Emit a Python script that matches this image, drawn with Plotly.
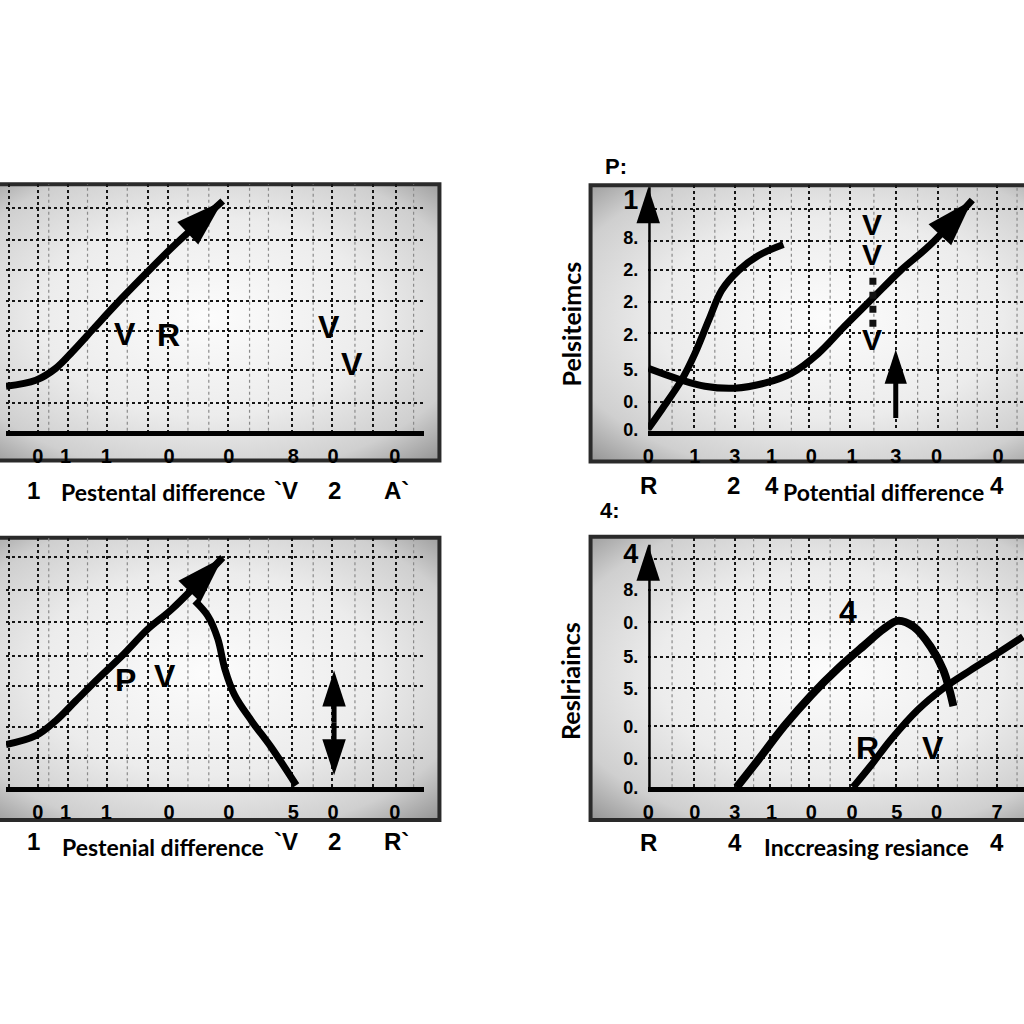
import base64
import plotly.graph_objects as go

W = H = 1024

# ---------------- data ----------------
# Panel A (top-left)
a_curve_x = [0, 3.0, 5.0, 6.7, 8.8, 11.0, 14.0, 16.7, 21.8]
a_curve_y = [4.5, 5.1, 6.3, 8.0, 10.3, 12.7, 15.8, 18.5, 23.2]
a_xtick_pos = [3.2, 6.0, 10.1, 16.4, 22.4, 28.9, 32.9, 39.1]
a_xtick_text = ["0", "1", "1", "0", "0", "8", "0", "0"]
a_labels = ["V", "R", "V", "V"]
a_label_x = [12.0, 16.3, 32.5, 34.8]
a_label_y = [9.8, 9.7, 10.5, 6.7]
a_below_text = ["1", "Pestental difference", "`V", "2", "A`"]
a_below_x = [2.8, 15.8, 28.2, 33.0, 39.3]
a_hgrid = [22.5, 19.3, 16.2, 13.1, 10.1, 6.1, 2.8]

# Panel B (top-right)
b_curve1_x = [0, 1.4, 3.4, 4.7, 6.1, 7.4, 9.1, 11.1, 13.6]
b_curve1_y = [0.2, 2.2, 5.2, 7.8, 11.2, 14.2, 16.2, 17.7, 18.8]
b_curve2_x = [0, 3.1, 5.7, 8.7, 11.7, 14.4, 17.1, 19.7, 22.4, 25.4, 28.4, 32.6]
b_curve2_y = [6.3, 5.2, 4.5, 4.3, 4.8, 5.8, 7.8, 10.5, 13.2, 16.2, 18.8, 23.3]
b_marker_x = [22.6, 22.6]
b_marker_y = [10.5, 15.8]
b_uparrow_x = [24.9, 24.9]
b_uparrow_y = [1.3, 8.2]
b_xtick_pos = [0, 4.7, 8.7, 12.4, 16.4, 20.5, 24.9, 29.0, 35.2]
b_xtick_text = ["0", "1", "3", "1", "0", "1", "3", "0", "0"]
b_ytick_pos = [23.0, 19.5, 16.3, 13.0, 9.7, 6.2, 2.9, 0.1]
b_ytick_text = ["<span style='font-size:27px'>1</span>", "8.", "2.", "2.", "2.", "5.", "0.", "0."]
b_labels = ["V", "V", "V"]
b_label_x = [22.5, 22.5, 22.5]
b_label_y = [20.8, 17.8, 9.2]
b_below_text = ["R", "2", "4", "Potential difference", "4"]
b_below_x = [0, 8.6, 12.5, 23.7, 35.1]
b_hgrid = [22.4, 19.2, 16.2, 13.0, 9.9, 6.1, 2.9]
b_title = "P:"
b_ytitle = "Pelsiteimcs"

# Panel C (bottom-left)
c_curve1_x = [0, 3.0, 5.0, 7.0, 9.3, 11.7, 14.3, 16.7, 21.8]
c_curve1_y = [4.3, 5.2, 6.7, 8.7, 11.0, 13.3, 16.0, 18.0, 23.2]
c_curve2_x = [19.0, 20.3, 21.3, 22.0, 23.0, 24.7, 26.7, 29.2]
c_curve2_y = [18.8, 17.3, 15.0, 12.0, 9.3, 6.7, 4.0, 0.2]
c_darrow_x = [33.0, 33.0, 33.0]
c_darrow_y = [6.5, 11.8, 1.2]
c_xtick_pos = [3.2, 6.0, 10.1, 16.4, 22.4, 28.9, 32.9, 39.1]
c_xtick_text = ["0", "1", "1", "0", "0", "5", "0", "0"]
c_labels = ["P", "V"]
c_label_x = [12.0, 16.0]
c_label_y = [10.8, 11.2]
c_below_text = ["1", "Pestenial difference", "`V", "2", "R`"]
c_below_x = [2.8, 15.8, 28.2, 33.0, 39.3]
c_hgrid = [23.2, 19.9, 16.7, 13.3, 10.2, 6.1, 3.0]

# Panel D (bottom-right)
d_curve1_x = [8.9, 11.1, 13.7, 16.4, 19.1, 21.7, 23.7, 25.1, 26.7, 28.4, 29.7, 30.7]
d_curve1_y = [0.0, 2.8, 6.2, 9.3, 12.0, 14.3, 16.0, 16.8, 16.2, 14.2, 11.8, 8.2]
d_curve2_x = [20.6, 22.4, 24.4, 27.1, 29.7, 32.4, 35.1, 37.7]
d_curve2_y = [0.0, 2.2, 4.8, 7.8, 10.0, 11.8, 13.5, 15.2]
d_xtick_pos = [0, 4.7, 8.7, 12.4, 16.4, 20.5, 25.0, 29.0, 35.1]
d_xtick_text = ["0", "0", "3", "1", "0", "0", "5", "0", "7"]
d_ytick_pos = [23.3, 19.9, 16.6, 13.2, 10.0, 6.1, 2.9, 0.0]
d_ytick_text = ["<span style='font-size:27px'>4</span>", "8.", "0.", "5.", "5.", "0.", "0.", "0."]
d_labels = ["4", "R", "V"]
d_label_x = [20.1, 22.1, 28.6]
d_label_y = [17.7, 4.0, 4.0]
d_below_text = ["R", "4", "Inccreasing resiance", "4"]
d_below_x = [0, 8.7, 22.0, 35.1]
d_hgrid = [23.0, 19.9, 16.7, 13.2, 10.0, 6.2, 3.0]
d_title = "4:"
d_ytitle = "Reslriaincs"

# grid positions
left_dark_grid = [0.3, 3.2, 6.2, 10.2, 14.3, 16.3, 22.3, 28.8, 32.8, 36.9, 39.2]
left_light_grid = [4.3, 8.2, 12.2, 18.3, 20.4, 24.5, 26.4, 30.9, 35.1, 41.0]
right_dark_grid = [4.6, 8.7, 12.3, 16.2, 20.3, 24.9, 29.1, 35.1]
right_light_grid = [2.4, 6.7, 10.6, 14.4, 18.3, 22.7, 27.1, 31.1, 33.1, 37.1]

# ---------------- styling / layout helpers ----------------
BOLD = "Liberation Sans, Arial, sans-serif"
HUMAN = "Lato, Open Sans, sans-serif"
tick_font = dict(family=BOLD, size=20, color="black", weight="bold")

svg = ('<svg xmlns="http://www.w3.org/2000/svg" width="400" height="300" viewBox="0 0 400 300" '
       'preserveAspectRatio="none"><defs><radialGradient id="g" cx="50%" cy="48%" r="72%">'
       '<stop offset="0%" stop-color="#fcfcfc"/><stop offset="50%" stop-color="#ececec"/>'
       '<stop offset="80%" stop-color="#cfcfcf"/><stop offset="100%" stop-color="#949494"/>'
       '</radialGradient></defs><rect width="400" height="300" fill="url(#g)"/></svg>')
bg_src = "data:image/svg+xml;base64," + base64.b64encode(svg.encode()).decode()


def px(x):
    return x / W


def py(y):
    return 1 - y / H


# panels: key -> (axis suffix, x domain px, y domain px(bottom, top), xrange, yrange, frame px)
panels = {
    "a": ("", (0, 420), (435, 186), [0, 42.0], [0, 24.9], (-30, 186, 436, 465)),
    "b": ("2", (646, 1024), (435, 187), [0, 37.8], [0, 24.8], (588, 187, 1070, 466)),
    "c": ("3", (0, 420), (795, 543), [0, 42.0], [0, 25.2], (-30, 543, 436, 828)),
    "d": ("4", (646, 1024), (795, 543), [0, 37.8], [0, 25.2], (588, 542, 1070, 828)),
}

fig = go.Figure()
layout = dict(width=W, height=H, margin=dict(l=0, r=0, t=0, b=0), paper_bgcolor="white",
              plot_bgcolor="rgba(0,0,0,0)", showlegend=False)
images, shapes, annotations = [], [], []

xticks = {"a": (a_xtick_pos, a_xtick_text), "b": (b_xtick_pos, b_xtick_text),
          "c": (c_xtick_pos, c_xtick_text), "d": (d_xtick_pos, d_xtick_text)}
yticks = {"b": (b_ytick_pos, b_ytick_text), "d": (d_ytick_pos, d_ytick_text)}
hgrids = {"a": a_hgrid, "b": b_hgrid, "c": c_hgrid, "d": d_hgrid}

for key, (sfx, xd, yd, xr, yr, frame) in panels.items():
    left = key in ("a", "c")
    dark = left_dark_grid if left else right_dark_grid
    light = left_light_grid if left else right_light_grid
    layout["xaxis" + sfx] = dict(
        domain=[px(xd[0]), px(xd[1])], range=xr, anchor="y" + sfx,
        showline=True, linewidth=5, linecolor="black",
        tickmode="array", tickvals=xticks[key][0], ticktext=xticks[key][1],
        ticks="", ticklabelstandoff=3, tickfont=tick_font, showgrid=False, zeroline=False,
        minor=dict(tickmode="array", tickvals=dark, showgrid=True, gridcolor="#151515",
                   gridwidth=2, griddash="dot", ticks=""),
        fixedrange=True)
    ycfg = dict(domain=[py(yd[0]), py(yd[1])], range=yr, anchor="x" + sfx,
                showline=False, showgrid=False, zeroline=False, ticks="",
                minor=dict(tickmode="array", tickvals=hgrids[key], showgrid=True,
                           gridcolor="#151515", gridwidth=2, griddash="dot", ticks=""),
                fixedrange=True)
    if left:
        ycfg["showticklabels"] = False
    else:
        ycfg.update(tickmode="array", tickvals=yticks[key][0], ticktext=yticks[key][1],
                    tickfont=dict(tick_font, size=18), ticklabelstandoff=9)
    layout["yaxis" + sfx] = ycfg

    fx0, fy0, fx1, fy1 = frame
    images.append(dict(source=bg_src, xref="paper", yref="paper", x=px(fx0), y=py(fy0),
                       sizex=px(fx1 - fx0), sizey=(fy1 - fy0) / H, sizing="stretch",
                       xanchor="left", yanchor="top", layer="below"))
    shapes.append(dict(type="rect", xref="paper", yref="paper", x0=px(fx0), x1=px(fx1),
                       y0=py(fy1), y1=py(fy0), line=dict(color="#2a2a2a", width=4),
                       fillcolor="rgba(0,0,0,0)", layer="below"))
    for lx in light:
        shapes.append(dict(type="line", xref="x" + sfx, yref="y" + sfx + " domain",
                           x0=lx, x1=lx, y0=0, y1=1,
                           line=dict(color="#8a8a8a", width=1.2, dash="dot"), layer="below"))


def curve(xs, ys, sfx, head=None, width=7, spline=True):
    sizes = [0] * (len(xs) - 1) + [head if head else 0]
    fig.add_trace(go.Scatter(
        x=xs, y=ys, xaxis="x" + sfx, yaxis="y" + sfx, mode="lines+markers" if head else "lines",
        line=dict(color="black", width=width, shape="spline" if spline else "linear", smoothing=1.0),
        marker=dict(symbol="arrow", size=sizes, color="black", opacity=1, angleref="previous",
                    line=dict(width=0, color="black")),
        opacity=1, cliponaxis=False, hoverinfo="skip"))


def label(txt, x, y, sfx, size=32):
    annotations.append(dict(text=txt, x=x, y=y, xref="x" + sfx, yref="y" + sfx, showarrow=False,
                            xanchor="center", yanchor="middle",
                            font=dict(family=BOLD, size=size, color="black", weight="bold")))


def below(texts, xs, sfx, ypix_num, ypix_title):
    for t, x in zip(texts, xs):
        is_title = len(t) > 3
        font = (dict(family=HUMAN, size=23, color="black", weight="bold") if is_title
                else dict(family=BOLD, size=24, color="black", weight="bold"))
        annotations.append(dict(
            text=t, x=x, y=py(ypix_title if is_title else ypix_num), xref="x" + sfx, yref="paper",
            showarrow=False, xanchor="center", yanchor="middle", font=font))


def paper_text(txt, xp, yp, font, angle=0):
    annotations.append(dict(text=txt, x=px(xp), y=py(yp), xref="paper", yref="paper",
                            xanchor="center", yanchor="middle", textangle=angle,
                            showarrow=False, font=font))


# Panel A
curve(a_curve_x, a_curve_y, "", head=50)
for t, x, y in zip(a_labels, a_label_x, a_label_y):
    label(t, x, y, "")
below(a_below_text, a_below_x, "", 495, 497)

# Panel B
curve([0, 0], [0, 24.6], "2", head=38, width=5, spline=False)
curve(b_curve1_x, b_curve1_y, "2")
curve(b_curve2_x, b_curve2_y, "2", head=50)
fig.add_trace(go.Scatter(x=b_marker_x, y=b_marker_y, xaxis="x2", yaxis="y2", mode="lines",
                         line=dict(color="#111", width=7, dash="dot"), hoverinfo="skip"))
curve(b_uparrow_x, b_uparrow_y, "2", head=36, width=5, spline=False)
for t, x, y in zip(b_labels, b_label_x, b_label_y):
    label(t, x, y, "2", size=30)
below(b_below_text, b_below_x, "2", 490, 497)
paper_text(b_title, 614, 168, dict(family=BOLD, size=22, color="black", weight="bold"))
paper_text(b_ytitle, 568, 327, dict(family=HUMAN, size=25, color="black", weight="bold"), -90)

# Panel C
curve(c_curve1_x, c_curve1_y, "3", head=50)
curve(c_curve2_x, c_curve2_y, "3")
curve(c_darrow_x[:2], c_darrow_y[:2], "3", head=38, width=5, spline=False)
curve([c_darrow_x[0], c_darrow_x[2]], [c_darrow_y[0], c_darrow_y[2]], "3", head=38, width=5,
      spline=False)
for t, x, y in zip(c_labels, c_label_x, c_label_y):
    label(t, x, y, "3")
below(c_below_text, c_below_x, "3", 850, 855)

# Panel D
curve([0, 0], [0, 24.5], "4", head=38, width=5, spline=False)
curve(d_curve1_x, d_curve1_y, "4", width=8)
curve(d_curve2_x, d_curve2_y, "4")
for t, x, y in zip(d_labels, d_label_x, d_label_y):
    label(t, x, y, "4", size=32)
below(d_below_text, d_below_x, "4", 851, 855)
paper_text(d_title, 608, 516, dict(family=BOLD, size=22, color="black", weight="bold"))
paper_text(d_ytitle, 568, 688, dict(family=HUMAN, size=25, color="black", weight="bold"), -90)

layout["images"] = images
layout["shapes"] = shapes
layout["annotations"] = annotations
fig.update_layout(**layout)
fig.write_html("out.html")
